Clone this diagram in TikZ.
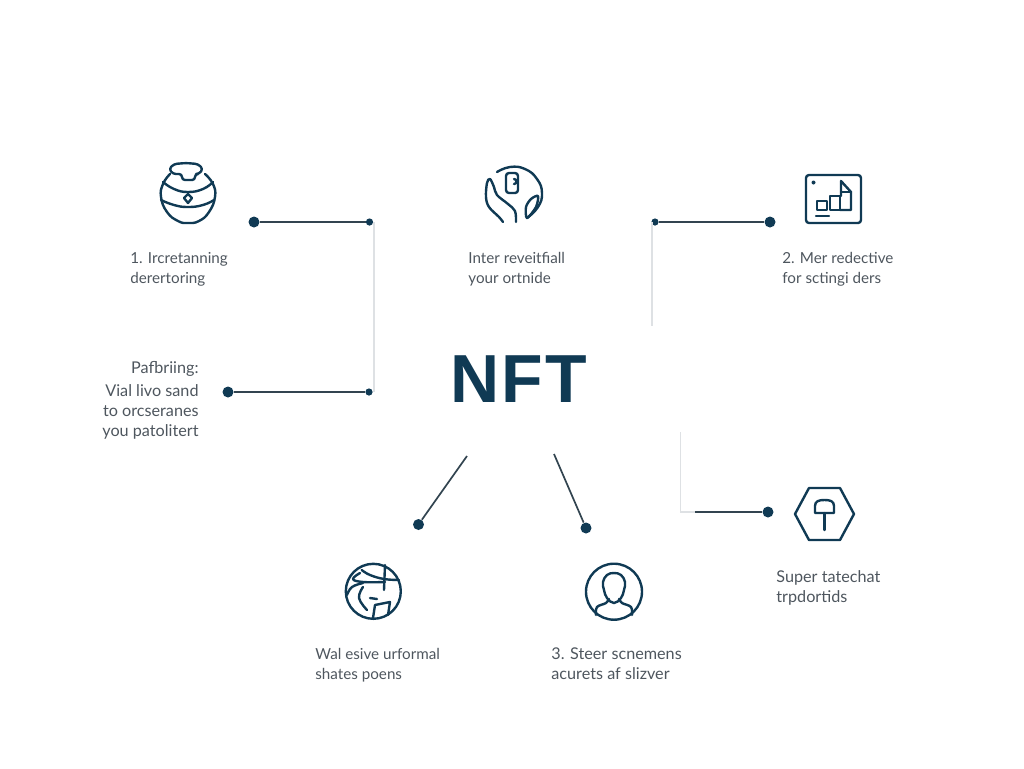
\documentclass[tikz,border=0pt]{standalone}
\usepackage{fontspec}
\setmainfont{Lato}
\newfontfamily\titlefont[LetterSpace=3]{Liberation Sans}
\usetikzlibrary{positioning, calc}
\definecolor{notenavy}{RGB}{16, 58, 84}
\definecolor{notedark}{RGB}{50, 68, 80}
\definecolor{notegray}{RGB}{78, 86, 94}
\definecolor{notelight}{RGB}{222, 225, 228}
\tikzset{
    bigdot/.style={circle, fill=notenavy, inner sep=0pt, minimum size=5.5pt},
    smalldot/.style={circle, fill=notenavy, inner sep=0pt, minimum size=3.6pt},
    wire/.style={notedark, line width=0.85pt},
    faint/.style={notelight, line width=0.7pt},
    icon/.style={notenavy, line width=1.2pt, line cap=round, line join=round},
    caption/.style={notegray, font=\fontsize{7.6}{10}\selectfont, inner sep=0pt},
    widecaption/.style={caption, font=\fontsize{8.1}{10}\selectfont},
}

\begin{document}
\begin{tikzpicture}[x=0.5pt, y=-0.5pt]
    \useasboundingbox (0,0) rectangle (1024,768);

    % Title
    \node[notenavy, inner sep=0pt, font=\titlefont\bfseries\fontsize{34}{36}\selectfont] (nft) at (518.5,379.5) {NFT};

    % Connector dots
    \node[bigdot] (potdot) at (254,222) {};
    \node[smalldot] (potend) at (369.5,222) {};
    \node[bigdot] (paydot) at (228,392) {};
    \node[smalldot] (payend) at (369,392) {};
    \node[smalldot] (chartend) at (655,222) {};
    \node[bigdot] (chartdot) at (770,222) {};
    \node[bigdot] (pindot) at (768,512) {};
    \node[bigdot] (globedot) at (418.5,524.5) {};
    \node[bigdot] (persondot) at (586,528) {};
    \coordinate (globefree) at (467,456);
    \coordinate (personfree) at (554,454);
    \coordinate (pinbend) at (695,512);
    \coordinate (potcorner) at (374,222);
    \coordinate (paycorner) at (374,392);
    \coordinate (chartcorner) at (652,222);
    \coordinate (chartfree) at (652,326);
    \coordinate (pincorner) at (680.5,512);
    \coordinate (pinfree) at (680.5,432);

    % Faint rails
    \draw[faint] (potcorner) -- (paycorner);
    \draw[faint] (chartcorner) -- (chartfree);
    \draw[faint] (pinfree) -- (pincorner) -- (pinbend);

    % Connectors
    \draw[wire] (potdot) -- (potend);
    \draw[wire] (paydot) -- (payend);
    \draw[wire] (chartend) -- (chartdot);
    \draw[wire] (pinbend) -- (pindot);
    \draw[wire] (globefree) -- (globedot);
    \draw[wire] (personfree) -- (persondot);

    % Pot icon
    \draw[icon, rounded corners=1.5pt] (182,174) -- (173,174) -- (169,169) -- (174,164) -- (186,163) -- (198,164) -- (203,169) -- (199,174) -- (195,174) -- (195,180) -- (182,180) -- cycle;
    \draw[icon] plot [smooth, tension=0.8] coordinates {(170,174) (163,184) (161,197) (167,212) (178,221) (188,223) (199,221) (209,212) (215,197) (213,184) (205,174)};
    \draw[icon] plot [smooth, tension=0.8] coordinates {(163,182) (174,189) (188,192) (203,189) (213,182)};
    \draw[icon] plot [smooth, tension=0.8] coordinates {(161,200) (174,205) (188,207) (203,205) (214,200)};
    \draw[icon] (188,194) -- (192,198) -- (188,203) -- (184,198) -- cycle;

    % Hand icon
    \draw[icon] plot [smooth, tension=0.8] coordinates {(497,172) (510,167) (525,169) (537,179) (542,193) (538,207) (527,218)};
    \draw[icon, rounded corners=1.5pt] (506,173) rectangle (518,193);
    \draw[icon] (514,184) arc (90:-90:2.5);
    \draw[icon] plot [smooth, tension=0.6] coordinates {(503,222) (499,217) (489,207) (486,197) (487,183) (490,179) (494,187) (497,195) (508,204) (515,211) (516,222)};
    \draw[icon] plot [smooth cycle, tension=0.5] coordinates {(527,218) (526,207) (531,199) (538,196) (536,207)};

    % Chart icon
    \draw[icon, rounded corners=1.5pt] (806,175) rectangle (861,223);
    \fill[notenavy] (813.5,182.5) circle (2);
    \draw[icon] (817,201) rectangle (827,210);
    \draw[icon] (830,196) rectangle (840,210);
    \draw[icon] (841,196) -- (841,181) -- (851,192) -- (851,210) -- (840,210);
    \draw[icon] (841,192) -- (851,192);
    \draw[icon] (816,216) -- (829,216);

    % Globe icon
    \draw[icon] (373.3,591.3) circle (27.5);
    \draw[icon] plot [smooth, tension=0.7] coordinates {(361.7,570) (370,575) (384,579) (399,580)};
    \draw[icon] plot [smooth, tension=0.7] coordinates {(360,573) (353,579) (363,582) (385,582)};
    \draw[icon] (385,565) -- (384,590);
    \draw[icon] plot [smooth, tension=0.7] coordinates {(347,595) (352,587) (363,583)};
    \draw[icon] plot [smooth, tension=0.7] coordinates {(363,587) (359,598) (367,610)};
    \draw[icon] (370,598) -- (377,599);
    \draw[icon] (373,618) -- (375,605) -- (390,602) -- (388,615);

    % Person icon
    \draw[icon] (614,591.7) circle (28);
    \draw[icon] plot [smooth cycle, tension=0.7] coordinates {(604,590) (603,582) (607,575) (614,573) (621,575) (625,582) (624,590) (621,598) (614,603) (607,598)};
    \draw[icon] plot [smooth, tension=0.6] coordinates {(596,615) (597,607) (606,603) (609,599)};
    \draw[icon] plot [smooth, tension=0.6] coordinates {(632,615) (631,607) (622,603) (619,599)};

    % Pin icon
    \draw[icon] (795,514) -- (809,488) -- (840,488) -- (854,514) -- (840,540) -- (809,540) -- cycle;
    \draw[icon] (815,513) -- (815,506) .. controls (815,501) and (819,500) .. (824.5,500) .. controls (830,500) and (834,501) .. (834,506) -- (834,513) -- cycle;
    \draw[icon] (824.5,513) -- (824.5,530);

    % Captions
    \node[caption, anchor=west, align=left] (potcap) at (130,269.5) {1. Ircretanning\\derertoring};
    \node[caption, anchor=west, align=left] (handcap) at (468,269.5) {Inter reveitfiall\\your ortnide};
    \node[caption, anchor=west, align=left] (chartcap) at (782,269.5) {2. Mer redective\\for sctingi ders};
    \node[widecaption, anchor=east, align=right] (paycap) at (199,400.5) {Pafbriing:\\[1.5pt]Vial livo sand\\to orcseranes\\you patolitert};
    \node[caption, anchor=west, align=left] (globecap) at (315,665) {Wal esive urformal\\shates poens};
    \node[widecaption, anchor=west, align=left] (personcap) at (551,664) {3. Steer scnemens\\acurets af slizver};
    \node[widecaption, anchor=west, align=left] (pincap) at (776,588) {Super tatechat\\trpdortids};
\end{tikzpicture}
\end{document}
